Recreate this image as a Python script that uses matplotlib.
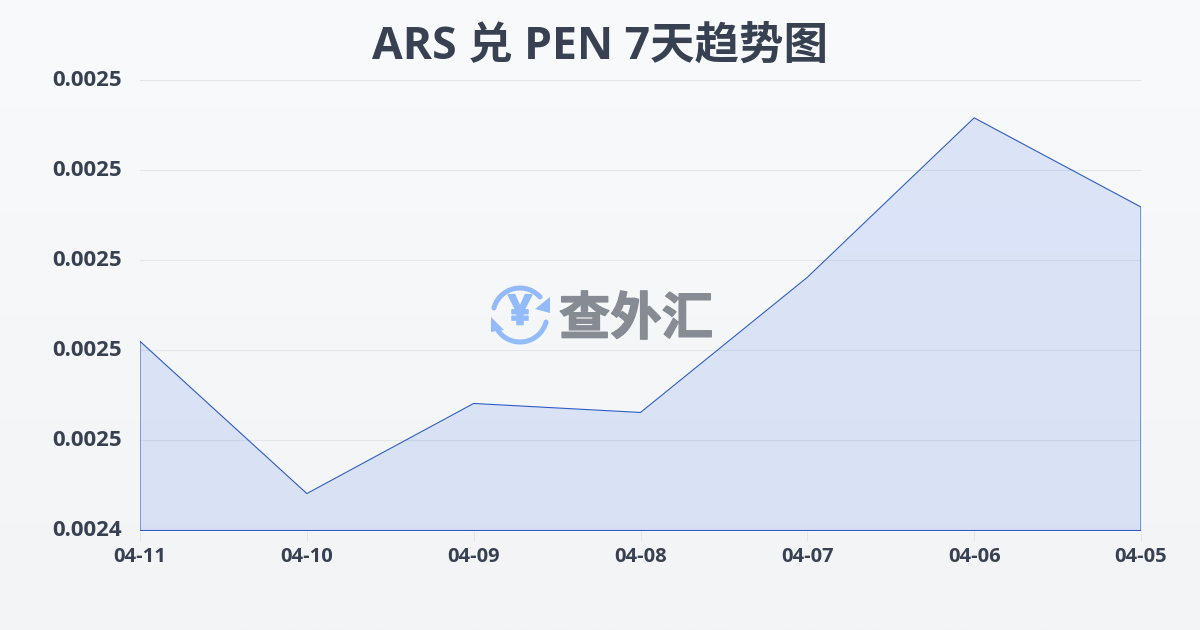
import numpy as np
import matplotlib
matplotlib.use("Agg")
import matplotlib.pyplot as plt
import matplotlib.patheffects as pe
from matplotlib.patches import Arc, Polygon
from matplotlib.transforms import ScaledTranslation

dates = ["04-11", "04-10", "04-09", "04-08", "04-07", "04-06", "04-05"]
rates = [0.0024710, 0.0024541, 0.0024641, 0.0024631, 0.0024781, 0.0024958, 0.0024859]
y_ticks = [0.00245, 0.00246, 0.00247, 0.00248, 0.00249, 0.00250]
y_labels = ["0.0024", "0.0025", "0.0025", "0.0025", "0.0025", "0.0025"]

text_color = "#374151"
line_color = "#2c5cc4"
fonts = ["Open Sans", "Noto Sans CJK SC"]
plt.rcParams["font.family"] = fonts

fig = plt.figure(figsize=(12, 6.3), dpi=100)

# page background, light vertical gradient
bg = fig.add_axes([0, 0, 1, 1], zorder=0)
grad = np.linspace(0, 1, 256).reshape(-1, 1)
top = np.array([249, 250, 251]) / 255
bottom = np.array([243, 244, 246]) / 255
bg.imshow(top + (bottom - top) * grad[..., None], aspect="auto", extent=[0, 1, 0, 1])
bg.axis("off")

# plot area: x 140-1141, y 80-530 in pixels
ax = fig.add_axes([140 / 1200, 99.5 / 630, 1001 / 1200, 450.5 / 630], zorder=1)
ax.patch.set_alpha(0)
x = np.arange(len(dates))
ax.fill_between(x, rates, y_ticks[0], color="#2563eb", alpha=0.13, lw=0, zorder=2)
ax.plot(np.r_[x[0], x, x[-1], x[0]], np.r_[y_ticks[0], rates, y_ticks[0], y_ticks[0]],
        color=line_color, lw=0.8, zorder=3)

ax.set_xlim(x[0], x[-1])
ax.set_ylim(y_ticks[0], y_ticks[-1])
ax.set_xticks(x)
ax.set_xticklabels(dates, fontsize=14.5, fontweight="bold", color=text_color)
ax.set_yticks(y_ticks)
ax.set_yticklabels(y_labels, fontsize=16, fontweight="bold", color=text_color)
ax.tick_params(axis="x", length=7, width=0.7, color="#e2e5ea", pad=5)
ax.tick_params(axis="y", length=0, pad=13)
ax.grid(axis="y", color="#e3e6eb", lw=0.8, zorder=1)
ax.set_axisbelow(True)
for s in ax.spines.values():
    s.set_visible(False)

# y labels sit a pixel above their grid lines
nudge = ScaledTranslation(0, 1.5 / 72, fig.dpi_scale_trans)
for lab in ax.get_yticklabels():
    lab.set_transform(lab.get_transform() + nudge)

fig.text(0.5, 1 - 47 / 630, "ARS 兑 PEN 7天趋势图", ha="center", va="center",
         fontsize=32, fontweight="bold", color=text_color, family=fonts)

# watermark overlay in pixel coordinates
wm = fig.add_axes([0, 0, 1, 1], zorder=3)
wm.set_xlim(0, 1200)
wm.set_ylim(630, 0)
wm.axis("off")
logo = "#93bbf9"
cx, cy = 520, 315
wm.add_patch(Arc((cx, cy), 54, 54, theta1=195, theta2=318, color=logo, lw=3.6, capstyle="round"))
wm.add_patch(Arc((cx, cy), 54, 54, theta1=15, theta2=143, color=logo, lw=3.6, capstyle="round"))
wm.add_patch(Polygon([(550, 297), (550, 313), (535, 309)], color=logo, lw=0))
wm.add_patch(Polygon([(491, 317), (491, 332), (504, 330)], color=logo, lw=0))
yen = wm.text(cx, cy - 1, "¥", ha="center", va="center", fontsize=30, fontweight="bold", color=logo, family=fonts)
yen.set_path_effects([pe.withStroke(linewidth=1.2, foreground=logo)])
mark = wm.text(636, 319, "查外汇", ha="center", va="center", fontsize=37, fontweight="bold",
               color="#868b94", family=["Noto Sans CJK SC", "DejaVu Sans"])
mark.set_path_effects([pe.withStroke(linewidth=1.0, foreground="#868b94")])

fig.savefig("out.png", dpi=100)
